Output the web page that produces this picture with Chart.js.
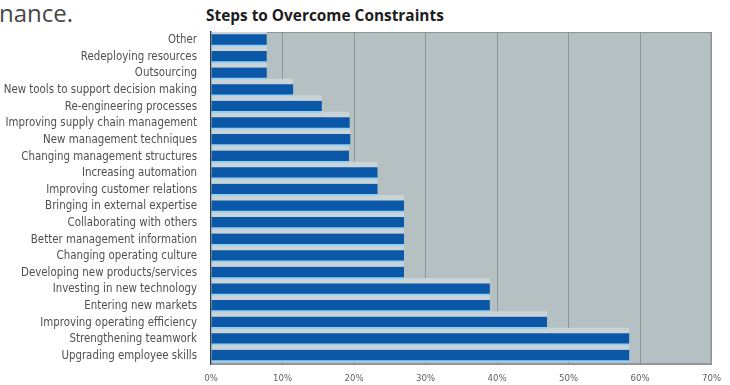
<!DOCTYPE html>
<html lang="en">
<head>
  <meta charset="UTF-8">
  <title>Steps to Overcome Constraints</title>
  <script src="https://cdn.jsdelivr.net/npm/chart.js@4.4.0/dist/chart.umd.min.js"></script>
  <style>
    html, body { margin: 0; padding: 0; background: #fff; }
    #wrap { position: relative; width: 730px; height: 385px; overflow: hidden; }
    #wrap canvas { position: absolute; left: 0; top: 0; }
    .lead {
      position: absolute; left: -1px; top: -4px;
      font: 24px 'Open Sans', sans-serif; color: #474747;
    }
    .title {
      position: absolute; left: 206px; top: 5px;
      font: bold 15.4px 'Open Sans', sans-serif; color: #1c1c1c;
    }
  </style>
</head>
<body>
  <div id="wrap">
    <div class="lead">nance.</div>
    <div class="title">Steps to Overcome Constraints</div>
    <canvas id="chart" width="730" height="385"></canvas>
  </div>
  <script>
    const steps = [
      'Other',
      'Redeploying resources',
      'Outsourcing',
      'New tools to support decision making',
      'Re-engineering processes',
      'Improving supply chain management',
      'New management techniques',
      'Changing management structures',
      'Increasing automation',
      'Improving customer relations',
      'Bringing in external expertise',
      'Collaborating with others',
      'Better management information',
      'Changing operating culture',
      'Developing new products/services',
      'Investing in new technology',
      'Entering new markets',
      'Improving operating efficiency',
      'Strengthening teamwork',
      'Upgrading employee skills'
    ];

    // share of respondents, percent
    const shares = [7.8, 7.8, 7.8, 11.5, 15.5, 19.4, 19.5, 19.3, 23.3, 23.3,
                    27, 27, 27, 27, 27, 39, 39, 47, 58.5, 58.5];

    const xTicks = [0, 10, 20, 30, 40, 50, 60, 70];

    // grey plot panel with a thin frame
    const plotPanel = {
      id: 'plotPanel',
      beforeDraw(chart) {
        const { ctx, chartArea: a } = chart;
        ctx.save();
        ctx.fillStyle = '#b5c0c2';
        ctx.fillRect(a.left, a.top, a.right - a.left, a.bottom - a.top);
        ctx.restore();
      },
      beforeDatasetsDraw(chart) {
        const { ctx, chartArea: a } = chart;
        ctx.save();
        ctx.strokeStyle = '#8b9497';
        ctx.lineWidth = 1;
        ctx.strokeRect(a.left + 0.5, a.top + 0.5, a.right - a.left - 1, a.bottom - a.top - 1);
        ctx.restore();
      }
    };

    new Chart(document.getElementById('chart'), {
      type: 'bar',
      data: {
        labels: steps,
        datasets: [
          {
            // front face of each bar
            data: shares,
            order: 1,
            grouped: false,
            barThickness: 12,
            backgroundColor: '#0b58a8',
            borderColor: '#94d0f3',
            borderWidth: { top: 0, right: 0, bottom: 2, left: 0 },
            borderSkipped: 'start'
          },
          {
            // lighter top face showing above it
            data: shares,
            order: 2,
            grouped: false,
            barThickness: 23,
            backgroundColor: '#cad3d6',
            borderColor: 'transparent',
            borderWidth: { top: 0, right: 0, bottom: 11, left: 0 },
            borderSkipped: 'start'
          }
        ]
      },
      options: {
        indexAxis: 'y',
        responsive: false,
        animation: false,
        events: [],
        layout: { padding: { top: 32, right: 18, left: 0, bottom: 0 } },
        plugins: {
          legend: { display: false },
          tooltip: { enabled: false },
          title: { display: false }
        },
        scales: {
          y: {
            afterFit(scale) { scale.width = 211; },
            grid: { display: false, drawTicks: false },
            border: { display: true, color: '#2f3d48', width: 1.5 },
            ticks: {
              autoSkip: false,
              padding: 14,
              color: '#505050',
              font: { family: "'DejaVu Sans Condensed', 'Liberation Sans Narrow', sans-serif", size: 11.4 }
            }
          },
          x: {
            min: xTicks[0],
            max: xTicks[xTicks.length - 1],
            afterFit(scale) { scale.height = 20; },
            afterBuildTicks(scale) { scale.ticks = xTicks.map(v => ({ value: v })); },
            grid: { color: '#8b9497', lineWidth: 1, drawTicks: false },
            border: { display: true, color: '#8b9497' },
            ticks: {
              padding: 9,
              color: '#606060',
              font: { family: "'DejaVu Sans Condensed', sans-serif", size: 9.5 },
              callback: v => v + '%'
            }
          }
        }
      },
      plugins: [plotPanel]
    });
  </script>
</body>
</html>
